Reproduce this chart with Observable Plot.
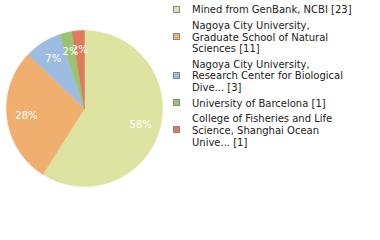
<!DOCTYPE html>
<html><head><meta charset="utf-8">
<script src="https://cdn.jsdelivr.net/npm/d3@7"></script>
<script src="https://cdn.jsdelivr.net/npm/@observablehq/plot@0.6"></script>
<style>
body{margin:0;background:#fff;}
#wrap{position:relative;width:380px;height:240px;overflow:hidden;}
#legend{position:absolute;left:173px;top:4.4px;font:10px "DejaVu Sans";color:#222;}
.item{display:flex;align-items:center;margin-bottom:3.55px;}
.sw{width:5px;height:5px;border:1px solid #888;margin-right:12px;flex:none;margin-top:-2px;}
.lbl{line-height:11.8px;white-space:pre;}
</style></head><body><div id="wrap"></div>
<script>
const categories = [
  "Mined from GenBank, NCBI",
  "Nagoya City University, Graduate School of Natural Sciences",
  "Nagoya City University, Research Center for Biological Dive...",
  "University of Barcelona",
  "College of Fisheries and Life Science, Shanghai Ocean Unive..."
];
const counts = [23, 11, 3, 1, 1];
const colors = ["#dde3a0", "#f0ae6f", "#9dbce1", "#9bc46f", "#e07a5c"];

const total = d3.sum(counts);
const arcs = d3.pie().sort(null).value(d => d)(counts);

// polygon outline of each slice in unit-circle space
const slicePts = [];
arcs.forEach((p, i) => {
  slicePts.push({cat: categories[i], x: 0, y: 0});
  const n = Math.max(2, Math.ceil((p.endAngle - p.startAngle) / (Math.PI / 180)));
  for (let k = 0; k <= n; k++) {
    const a = p.startAngle + (p.endAngle - p.startAngle) * k / n;
    slicePts.push({cat: categories[i], x: Math.sin(a), y: Math.cos(a)});
  }
  slicePts.push({cat: categories[i], x: 0, y: 0});
});

const labels = arcs.map((p, i) => {
  const m = (p.startAngle + p.endAngle) / 2;
  return {x: 0.75 * Math.sin(m), y: 0.75 * Math.cos(m), text: Math.floor(counts[i] / total * 100) + "%"};
});

const chart = Plot.plot({
  width: 380, height: 240,
  marginLeft: 6, marginRight: 218, marginTop: 30, marginBottom: 54,
  x: {domain: [-1, 1], axis: null},
  y: {domain: [-1, 1], axis: null},
  color: {domain: categories, range: colors},
  style: {background: "#fff"},
  marks: [
    Plot.line(slicePts, {x: "x", y: "y", z: "cat", fill: "cat", stroke: "cat", strokeWidth: 0.5}),
    Plot.text(labels, {x: "x", y: "y", text: "text", fill: "white", fontSize: 10, fontFamily: "DejaVu Sans"})
  ]
});
const wrap = document.getElementById("wrap");
wrap.appendChild(chart);

function wrapText(s, max) {
  const words = s.split(" "); const lines = []; let cur = "";
  for (const w of words) {
    const t = cur ? cur + " " + w : w;
    if (t.length > max && cur) { lines.push(cur); cur = w; } else cur = t;
  }
  if (cur) lines.push(cur);
  return lines.join("\n");
}
const legend = document.createElement("div");
legend.id = "legend";
categories.forEach((c, i) => {
  const it = document.createElement("div"); it.className = "item";
  const sw = document.createElement("div"); sw.className = "sw"; sw.style.background = colors[i];
  const lb = document.createElement("div"); lb.className = "lbl";
  lb.textContent = wrapText(c + " [" + counts[i] + "]", 30);
  it.appendChild(sw); it.appendChild(lb); legend.appendChild(it);
});
wrap.appendChild(legend);
</script></body></html>
